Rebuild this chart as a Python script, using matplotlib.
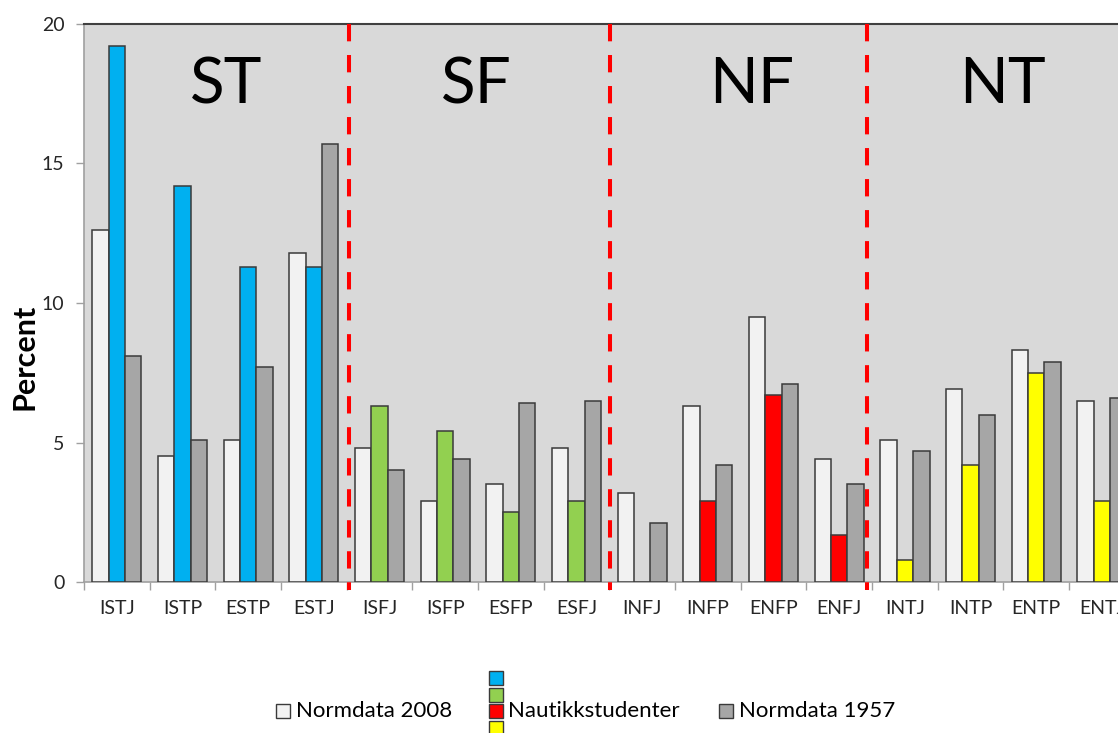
import matplotlib
matplotlib.use("Agg")
import matplotlib.pyplot as plt
import numpy as np
from matplotlib.patches import Rectangle

# MBTI types and their shares (percent)
types = ["ISTJ", "ISTP", "ESTP", "ESTJ", "ISFJ", "ISFP", "ESFP", "ESFJ",
         "INFJ", "INFP", "ENFP", "ENFJ", "INTJ", "INTP", "ENTP", "ENTJ"]
norm_2008 = [12.6, 4.5, 5.1, 11.8, 4.8, 2.9, 3.5, 4.8,
             3.2, 6.3, 9.5, 4.4, 5.1, 6.9, 8.3, 6.5]
nautikk = [19.2, 14.2, 11.3, 11.3, 6.3, 5.4, 2.5, 2.9,
           0.0, 2.9, 6.7, 1.7, 0.8, 4.2, 7.5, 2.9]
norm_1957 = [8.1, 5.1, 7.7, 15.7, 4.0, 4.4, 6.4, 6.5,
             2.1, 4.2, 7.1, 3.5, 4.7, 6.0, 7.9, 6.6]

groups = ["ST", "SF", "NF", "NT"]
group_colors = ["#00b0f0", "#92d050", "#ff0000", "#ffff00"]
group_label_x = [1.66, 5.47, 9.67, 13.48]
separators = [3.54, 7.51, 11.43]

c_2008 = "#f2f2f2"
c_1957 = "#a6a6a6"
edge = "#3a3a3a"
font = "Lato"

plt.rcParams["font.family"] = [font, "DejaVu Sans"]

fig = plt.figure(figsize=(11.18, 7.33), dpi=100)
W, H = 1118, 733
ax = fig.add_axes([84 / W, (H - 582) / H, 16 * 65.67 / W, 558 / H])
ax.set_facecolor("#d9d9d9")

x = np.arange(len(types))
w = 0.25
nautikk_colors = [group_colors[i // 4] for i in range(len(types))]

ax.bar(x - w, norm_2008, w, color=c_2008, edgecolor=edge, linewidth=1.1, zorder=3)
ax.bar(x, nautikk, w, color=nautikk_colors, edgecolor=edge, linewidth=1.1, zorder=3)
ax.bar(x + w, norm_1957, w, color=c_1957, edgecolor=edge, linewidth=1.1, zorder=3)

ax.set_xlim(-0.5, len(types) - 0.5)
ax.set_ylim(0, 20)

# group separators
for s in separators:
    ln, = ax.plot([s, s], [20, -0.3], color="#ff0000", linewidth=2.9,
                  clip_on=False, zorder=4)
    ln.set_dashes((4.3, 3.4))

for g, gx in zip(groups, group_label_x):
    ax.text(gx, 17.8, g, ha="center", va="center", fontsize=46, color="black",
            family=font, zorder=5)

# axes styling
ax.set_yticks([0, 5, 10, 15, 20])
ax.tick_params(axis="y", length=6, width=1, color="#a0a0a0", labelsize=14,
               labelcolor="#262626", pad=8)
ax.set_xticks(x)
ax.set_xticklabels(types)
ax.tick_params(axis="x", which="major", length=0, labelsize=14,
               labelcolor="#262626", pad=13)
ax.set_xticks(np.arange(-0.5, len(types)), minor=True)
ax.tick_params(axis="x", which="minor", length=6, width=1, color="#a0a0a0")

for side in ["left", "bottom"]:
    ax.spines[side].set_color("#a0a0a0")
    ax.spines[side].set_linewidth(1.2)
ax.spines["top"].set_color("#404040")
ax.spines["top"].set_linewidth(1.5)
ax.spines["right"].set_visible(False)

fig.text(25 / W, 1 - 357 / H, "Percent", rotation=90, ha="center", va="center",
         fontsize=22, fontweight="bold", color="black")

# legend drawn by hand: Nautikkstudenter gets one swatch per group colour
def swatch(x0, y0, color, size=14):
    fig.patches.append(Rectangle((x0 / W, 1 - (y0 + size) / H), size / W, size / H,
                                 transform=fig.transFigure, facecolor=color,
                                 edgecolor=edge, linewidth=1.0))

ty = 1 - 711 / H
swatch(276, 704, c_2008)
fig.text(296 / W, ty, "Normdata 2008", ha="left", va="center", fontsize=16, color="black")
for i, c in enumerate(group_colors):
    swatch(489, 671 + i * 16.5, c)
fig.text(508 / W, ty, "Nautikkstudenter", ha="left", va="center", fontsize=16, color="black")
swatch(719, 704, c_1957)
fig.text(739 / W, ty, "Normdata 1957", ha="left", va="center", fontsize=16, color="black")

fig.savefig("out.png", dpi=100)
